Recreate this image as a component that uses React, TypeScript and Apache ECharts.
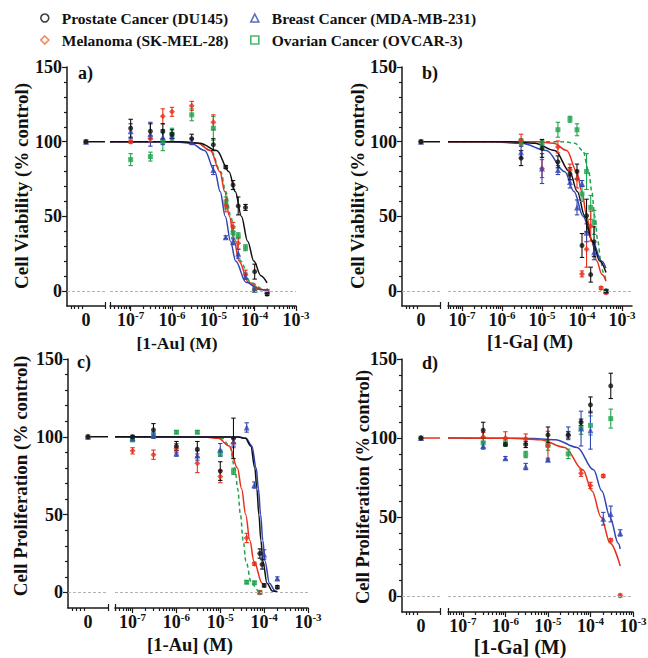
import { useEffect, useRef } from "react";
import * as echarts from "echarts";

const FONT = "Liberation Serif";

// ---------------- data (concentrations in M, values in % of control) ----------------
const CONTROL_PCT = 100; // untreated control, plotted at concentration 0

// Panel a) viability, 1-Au
const CONC_A = [1e-7, 3e-7, 6e-7, 1e-6, 3e-6, 1e-5, 2e-5, 3e-5, 4e-5, 6e-5, 1e-4, 2e-4];
const A_DU145 = [109, 107, 107, 105, 102, 98, 83, 71, 57, 56, 13, -2];
const A_DU145_ERR = [6, 5, 5, 3, 3, 4, 1, 3, 6, 2, 5, 1];
const A_MEL = [100, 102, 117, 120, 124, 113, 57, 43, 32, 11, 1, 0];
const A_MEL_ERR = [1, 2, 5, 3, 3, 5, 4, 3, 4, 3, 1, 1];
const A_MDA = [107, 105, 103, 104, 100, 81, 36, 33, 25, 10, 1, 0];
const A_MDA_ERR = [5, 8, 5, 2, 2, 3, 1, 2, 3, 2, 1, 1];
const A_OVCAR = [88, 90, 100, 105, 118, 109, 59, 39, 37, 29, 0.5, null];
const A_OVCAR_ERR = [4, 3, 6, 4, 4, 8, 4, 3, 2, 2, 1, null];

// Panel b) viability, 1-Ga
const CONC_B = [3e-6, 1e-5, 2.5e-5, 5e-5, 7.5e-5, 1e-4, 1.3e-4, 1.65e-4, 2e-4, 3e-4, 4e-4];
const B_DU145 = [89, 95.5, 86.5, 78.5, 80, 30.5, 50.5, 11, 33, null, 0];
const B_DU145_ERR = [5, 6, 4, 4, 5, 8, 11, 5, 10, null, 1];
const B_MEL = [101, 82, 96.5, 81, 75, 11.5, 28, 43.5, null, 2, -1];
const B_MEL_ERR = [4, 6, 4, 4, 6, 2, 12, 10, null, 1, 1];
const B_MDA = [93, 82, 81, 73, 56, 72, 39, null, 26, null, 0];
const B_MDA_ERR = [4, 10, 3, 4, 5, 2, 6, null, 5, null, 1];
const B_OVCAR = [100, 99, 108, 115, 108, 65, 80, 56, 46, null, 0];
const B_OVCAR_ERR = [2, 2, 5, 2, 4, 5, 12, 8, 8, null, 1];

// Panel c) proliferation, 1-Au
const CONC_C = [1e-7, 3e-7, 1e-6, 3e-6, 1e-5, 2e-5, 4e-5, 6e-5, 8e-5, 9e-5, 1e-4, 2e-4];
const C_DU145 = [100, 104.5, 94, 92, 78, 99, null, null, 25, 18, 4.5, 3.4];
const C_DU145_ERR = [1, 4, 3, 5, 6, 13, null, null, 3, 3, 1, 1];
const C_MEL = [91, 88.5, 92.7, 83, 74.5, 96, 35, 18.4, 0, null, null, null];
const C_MEL_ERR = [2, 3, 3, 6, 4, 3, 3, 1, 1, null, null, null];
const C_MDA = [99, 101, 89.5, 88, 91.7, 97, 106, 69, null, null, 24.4, 9];
const C_MDA_ERR = [1, 2, 2, 3, 4, 3, 3, 2, null, null, 3, 1];
const C_OVCAR = [98, 101, 103, 103, 89.5, 77.8, 6.6, 6.2, 0, null, null, null];
const C_OVCAR_ERR = [1, 1, 1, 1, 2, 2, 1, 1, 1, null, null, null];

// Panel d) proliferation, 1-Ga
const CONC_D = [3e-7, 1e-6, 3e-6, 1e-5, 3e-5, 6e-5, 1e-4, 2e-4, 3e-4, 5e-4];
const D_DU145 = [105, 96, 96, 102, 102, 110, 121, null, 133, null];
const D_DU145_ERR = [5, 1, 2, 5, 2, 2, 5, null, 8, null];
const D_MEL = [100.6, 100, 99.6, 95.3, null, 77.8, 70, 76, 35.4, 0.4];
const D_MEL_ERR = [3, 4, 3, 9, null, 2, 2, 1, 1, 1];
const D_MDA = [95, 87.3, 82, 86.3, 103, 106, 105, 49, 52, 40];
const D_MDA_ERR = [2, 1, 2, 1, 4, 11, 12, 4, 5, 2];
const D_OVCAR = [97, 97, 89.6, 95.3, 90, 106.4, 108, null, 112.3, null];
const D_OVCAR_ERR = [3, 2, 2, 3, 3, 4, 6, null, 6, null];

// Fitted dose-response curves: [log10(M), %]
const FIT_A_DU145 = [[-7.5, 100], [-5.82, 99.9], [-5.32, 99.0], [-4.92, 94.1], [-4.62, 79.9], [-4.47, 66.6], [-4.32, 50], [-4.17, 33.4], [-4.02, 20.1], [-3.85, 10.3], [-3.7, 5.5]];
const FIT_A_MDA = [[-7.5, 100], [-5.96, 99.9], [-5.54, 99.0], [-5.21, 94.1], [-4.96, 79.9], [-4.835, 66.6], [-4.71, 50], [-4.585, 33.4], [-4.46, 20.1], [-4.21, 5.9], [-3.88, 1.0], [-3.7, 0.4]];
const FIT_A_MEL = [[-7.5, 100], [-5.76, 99.9], [-5.38, 99.0], [-5.07, 94.1], [-4.84, 79.9], [-4.725, 66.6], [-4.61, 50], [-4.495, 33.4], [-4.38, 20.1], [-4.15, 5.9], [-3.84, 1.0], [-3.7, 0.4]];
const FIT_A_OVCAR = [[-7.5, 100], [-5.78, 99.9], [-5.38, 99.0], [-5.06, 94.1], [-4.82, 79.9], [-4.7, 66.6], [-4.58, 50], [-4.46, 33.4], [-4.34, 20.1], [-4.1, 5.9], [-3.78, 1.0], [-3.7, 0.6]];

const FIT_B_DU145 = [[-7.35, 100], [-5.8, 99.9], [-5.18, 99.0], [-4.68, 94.1], [-4.305, 79.9], [-4.118, 66.6], [-3.93, 50], [-3.743, 33.4], [-3.555, 20.1], [-3.4, 12.4]];
const FIT_B_MEL = [[-7.35, 100], [-5.13, 99.9], [-4.71, 99.0], [-4.38, 94.1], [-4.13, 79.9], [-4.005, 66.6], [-3.88, 50], [-3.755, 33.4], [-3.63, 20.1], [-3.505, 11.2], [-3.4, 6.6]];
const FIT_B_MDA = [[-7.35, 100], [-6.28, 99.9], [-5.51, 99.0], [-4.89, 94.1], [-4.43, 79.9], [-4.2, 66.6], [-3.97, 50], [-3.74, 33.4], [-3.51, 20.1], [-3.4, 15.4]];
const FIT_B_OVCAR = [[-7.35, 100], [-4.43, 99.9], [-4.18, 99.0], [-3.98, 94.1], [-3.83, 79.9], [-3.755, 66.6], [-3.68, 50], [-3.605, 33.4], [-3.53, 20.1], [-3.47, 12.6], [-3.4, 7.0]];

const FIT_C_DU145 = [[-7.4, 100], [-4.582, 99.9], [-4.428, 99.0], [-4.305, 94.1], [-4.212, 79.9], [-4.166, 66.6], [-4.12, 50], [-4.074, 33.4], [-4.028, 20.1], [-3.935, 5.9], [-3.812, 1.0], [-3.7, 0.2]];
const FIT_C_MDA = [[-7.4, 100], [-4.58, 99.9], [-4.413, 99.0], [-4.28, 94.1], [-4.18, 79.9], [-4.13, 66.6], [-4.08, 50], [-4.03, 33.4], [-3.98, 20.1], [-3.88, 5.9], [-3.747, 1.0], [-3.7, 0.5]];
const FIT_C_MEL = [[-7.4, 100], [-5.358, 99.9], [-5.045, 99.0], [-4.795, 94.1], [-4.608, 79.9], [-4.514, 66.6], [-4.42, 50], [-4.326, 33.4], [-4.233, 20.1], [-4.045, 5.9], [-4.0, 4.3]];
const FIT_C_OVCAR = [[-7.4, 100], [-5.165, 99.9], [-4.957, 99.0], [-4.79, 94.1], [-4.665, 79.9], [-4.603, 66.6], [-4.54, 50], [-4.478, 33.4], [-4.415, 20.1], [-4.29, 5.9], [-4.123, 1.0], [-4.1, 0.8]];

const FIT_D_MDA = [[-7.35, 100], [-5.475, 99.9], [-4.83, 99.0], [-4.314, 94.1], [-3.927, 79.9], [-3.734, 66.6], [-3.54, 50], [-3.346, 33.4], [-3.3, 29.8]];
const FIT_D_MEL = [[-7.35, 100], [-5.893, 99.9], [-5.179, 99.0], [-4.607, 94.1], [-4.179, 79.9], [-3.964, 66.6], [-3.75, 50], [-3.536, 33.4], [-3.3, 19.0]];

// Axis tick labels
const Y_TICKS = [0, 50, 100, 150];
const Y_MINOR = [10, 20, 30, 40, 60, 70, 80, 90, 110, 120, 130, 140];
const X_DECADES = [-7, -6, -5, -4, -3];

// ---------------- styling / layout ----------------
type Key = "du145" | "mel" | "mda" | "ovcar";
const STYLE: Record<Key, { name: string; color: string; symbol: string; size: number; icon: string; legendColor: string }> = {
  du145: { name: "Prostate Cancer (DU145)", color: "#111111", symbol: "circle", size: 5, icon: "circle", legendColor: "#111111" },
  mel: { name: "Melanoma (SK-MEL-28)", color: "#e8301c", symbol: "diamond", size: 6, icon: "diamond", legendColor: "#f26a2e" },
  mda: { name: "Breast Cancer (MDA-MB-231)", color: "#3245b5", symbol: "triangle", size: 6, icon: "triangle", legendColor: "#3245b5" },
  ovcar: { name: "Ovarian Cancer (OVCAR-3)", color: "#1ea44c", symbol: "rect", size: 5, icon: "rect", legendColor: "#1ea44c" },
};
const DRAW_ORDER: Key[] = ["ovcar", "mel", "mda", "du145"];

const PANELS = [
  {
    letter: "a)", yTitle: "Cell Viability (% control)", xTitle: "[1-Au] (M)", conc: CONC_A,
    values: { du145: A_DU145, mel: A_MEL, mda: A_MDA, ovcar: A_OVCAR },
    errs: { du145: A_DU145_ERR, mel: A_MEL_ERR, mda: A_MDA_ERR, ovcar: A_OVCAR_ERR },
    fits: [
      { key: "ovcar" as Key, pts: FIT_A_OVCAR, dashed: true },
      { key: "mel" as Key, pts: FIT_A_MEL, dashed: false },
      { key: "mda" as Key, pts: FIT_A_MDA, dashed: false },
      { key: "du145" as Key, pts: FIT_A_DU145, dashed: false },
    ],
    plateau: "du145" as Key,
    L: { top: 67, h: 239, leftL: 67, wL: 38, leftR: 110, wR: 186, xMin: -7.5, xMax: -3, letter: [78, 73], yT: [21, 186, 19], xT: [177, 343, 17.5] },
  },
  {
    letter: "b)", yTitle: "Cell Viability (% control)", xTitle: "[1-Ga] (M)", conc: CONC_B,
    values: { du145: B_DU145, mel: B_MEL, mda: B_MDA, ovcar: B_OVCAR },
    errs: { du145: B_DU145_ERR, mel: B_MEL_ERR, mda: B_MDA_ERR, ovcar: B_OVCAR_ERR },
    fits: [
      { key: "ovcar" as Key, pts: FIT_B_OVCAR, dashed: true },
      { key: "mda" as Key, pts: FIT_B_MDA, dashed: false },
      { key: "mel" as Key, pts: FIT_B_MEL, dashed: false },
      { key: "du145" as Key, pts: FIT_B_DU145, dashed: false },
    ],
    plateau: "du145" as Key,
    L: { top: 67, h: 239, leftL: 402, wL: 38, leftR: 448, wR: 184, xMin: -7.35, xMax: -2.75, letter: [422, 73], yT: [357, 186, 19], xT: [530, 342, 18.5] },
  },
  {
    letter: "c)", yTitle: "Cell Proliferation (% control)", xTitle: "[1-Au] (M)", conc: CONC_C,
    values: { du145: C_DU145, mel: C_MEL, mda: C_MDA, ovcar: C_OVCAR },
    errs: { du145: C_DU145_ERR, mel: C_MEL_ERR, mda: C_MDA_ERR, ovcar: C_OVCAR_ERR },
    fits: [
      { key: "ovcar" as Key, pts: FIT_C_OVCAR, dashed: true },
      { key: "mel" as Key, pts: FIT_C_MEL, dashed: false },
      { key: "mda" as Key, pts: FIT_C_MDA, dashed: false },
      { key: "du145" as Key, pts: FIT_C_DU145, dashed: false },
    ],
    plateau: "du145" as Key,
    L: { top: 359, h: 249, leftL: 68, wL: 40, leftR: 115, wR: 193, xMin: -7.4, xMax: -3, letter: [77, 362], yT: [20, 476, 19], xT: [190, 645, 18.5] },
  },
  {
    letter: "d)", yTitle: "Cell Proliferation (% control)", xTitle: "[1-Ga] (M)", conc: CONC_D,
    values: { du145: D_DU145, mel: D_MEL, mda: D_MDA, ovcar: D_OVCAR },
    errs: { du145: D_DU145_ERR, mel: D_MEL_ERR, mda: D_MDA_ERR, ovcar: D_OVCAR_ERR },
    fits: [
      { key: "mda" as Key, pts: FIT_D_MDA, dashed: false },
      { key: "mel" as Key, pts: FIT_D_MEL, dashed: false },
    ],
    plateau: "mel" as Key,
    L: { top: 359, h: 253, leftL: 402, wL: 38, leftR: 448, wR: 185, xMin: -7.35, xMax: -3, letter: [422, 363], yT: [363, 487, 18.5], xT: [520, 647, 20] },
  },
];

const AXIS_COLOR = "#1a1a1a";
const LEFT_MIN = -1;
const LEFT_MAX = 1;
const Y_MIN = -10;
const Y_MAX = 150;

function minorLogTicks(min: number, max: number): number[] {
  const out: number[] = [];
  for (let n = Math.floor(min); n <= Math.ceil(max); n++) {
    for (let k = 2; k <= 9; k++) {
      const v = n + Math.log10(k);
      if (v > min && v < max) out.push(v);
    }
  }
  return out;
}

const errRender = (color: string) => (_params: any, api: any) => {
  const x = api.value(0);
  const y = api.value(1);
  const e = api.value(2);
  const p1 = api.coord([x, y + e]);
  const p2 = api.coord([x, y - e]);
  const hw = 2.2;
  const style = { stroke: color, lineWidth: 1.1 };
  return {
    type: "group",
    children: [
      { type: "line", shape: { x1: p1[0], y1: p1[1], x2: p2[0], y2: p2[1] }, style },
      { type: "line", shape: { x1: p1[0] - hw, y1: p1[1], x2: p1[0] + hw, y2: p1[1] }, style },
      { type: "line", shape: { x1: p2[0] - hw, y1: p2[1], x2: p2[0] + hw, y2: p2[1] }, style },
    ],
  };
};

function buildOption() {
  const grid: any[] = [];
  const xAxis: any[] = [];
  const yAxis: any[] = [];
  const series: any[] = [];
  const graphic: any[] = [];

  const zeroLine = {
    silent: true,
    symbol: ["none", "none"],
    label: { show: false },
    lineStyle: { color: "#b3b3b3", type: [3, 2], width: 1 },
    data: [{ yAxis: 0 }],
  };
  const lineStyleAxis = { color: AXIS_COLOR, width: 1.5 };
  const tickStyle = { color: AXIS_COLOR, width: 1.2 };
  const labelBase = { fontFamily: FONT, fontWeight: "bold", color: "#111", fontSize: 18 };
  const hiddenLine = { show: false, onZero: false };

  PANELS.forEach((p, pi) => {
    const L = p.L;
    const gL = pi * 2;
    const gR = pi * 2 + 1;
    grid.push({ left: L.leftL, top: L.top, width: L.wL, height: L.h, containLabel: false, outerBoundsMode: "none" });
    grid.push({ left: L.leftR, top: L.top, width: L.wR, height: L.h, containLabel: false, outerBoundsMode: "none" });

    // ---- left (zero) segment x axes ----
    xAxis.push({
      gridIndex: gL, type: "value", min: LEFT_MIN, max: LEFT_MAX, position: "bottom",
      axisLine: { show: true, onZero: false, lineStyle: lineStyleAxis },
      axisTick: { show: false },
      axisLabel: { show: true, customValues: [0], formatter: () => "0", margin: 4, ...labelBase, lineHeight: 20 },
      splitLine: { show: false },
    });
    xAxis.push({
      gridIndex: gL, type: "value", min: LEFT_MIN, max: LEFT_MAX, position: "bottom",
      axisLine: hiddenLine, axisLabel: { show: false }, splitLine: { show: false },
      axisTick: { show: true, length: 3, lineStyle: tickStyle, customValues: [-0.8, -0.6, -0.4, -0.2, LEFT_MAX] },
    });
    xAxis.push({
      gridIndex: gL, type: "value", min: LEFT_MIN, max: LEFT_MAX, position: "bottom",
      axisLine: hiddenLine, axisLabel: { show: false }, splitLine: { show: false },
      axisTick: { show: true, inside: true, length: 4, lineStyle: tickStyle, customValues: [LEFT_MAX] },
    });
    // ---- right (log) segment x axes ----
    const decades = X_DECADES.filter((d) => d >= L.xMin && d <= L.xMax);
    xAxis.push({
      gridIndex: gR, type: "value", min: L.xMin, max: L.xMax, position: "bottom",
      axisLine: { show: true, onZero: false, lineStyle: lineStyleAxis },
      axisTick: { show: true, length: 5, lineStyle: tickStyle, customValues: decades },
      axisLabel: {
        show: true, customValues: decades, margin: 4,
        formatter: (v: number) => `{n|10}{s|${Math.round(v)}}`,
        rich: {
          n: { ...labelBase, fontSize: 18, lineHeight: 20 },
          s: { ...labelBase, fontSize: 11, lineHeight: 12, padding: [0, 0, 10, 0] },
        },
      },
      splitLine: { show: false },
    });
    xAxis.push({
      gridIndex: gR, type: "value", min: L.xMin, max: L.xMax, position: "bottom",
      axisLine: hiddenLine, axisLabel: { show: false }, splitLine: { show: false },
      axisTick: { show: true, length: 3, lineStyle: tickStyle, customValues: [L.xMin, ...minorLogTicks(L.xMin, L.xMax)] },
    });
    xAxis.push({
      gridIndex: gR, type: "value", min: L.xMin, max: L.xMax, position: "bottom",
      axisLine: hiddenLine, axisLabel: { show: false }, splitLine: { show: false },
      axisTick: { show: true, inside: true, length: 4, lineStyle: tickStyle, customValues: [L.xMin] },
    });

    // ---- y axes ----
    yAxis.push({
      gridIndex: gL, type: "value", min: Y_MIN, max: Y_MAX, position: "left",
      axisLine: { show: true, onZero: false, lineStyle: lineStyleAxis },
      axisTick: { show: true, length: 5, lineStyle: tickStyle, customValues: Y_TICKS },
      axisLabel: { show: true, customValues: Y_TICKS, margin: 5, ...labelBase },
      splitLine: { show: false },
    });
    yAxis.push({
      gridIndex: gL, type: "value", min: Y_MIN, max: Y_MAX, position: "left",
      axisLine: hiddenLine, axisLabel: { show: false }, splitLine: { show: false },
      axisTick: { show: true, length: 3, lineStyle: tickStyle, customValues: Y_MINOR },
    });
    yAxis.push({ gridIndex: gR, type: "value", min: Y_MIN, max: Y_MAX, show: false, axisLine: hiddenLine });
    yAxis.push({ gridIndex: gR, type: "value", min: Y_MIN, max: Y_MAX, show: false, axisLine: hiddenLine });

    const xL = gL * 3;
    const xR = gR * 3;
    const yL = gL * 2;
    const yR = gR * 2;

    // curve extension across the zero segment
    series.push({
      type: "line", xAxisIndex: xL, yAxisIndex: yL, silent: true, showSymbol: false, z: 2,
      data: [[0, CONTROL_PCT], [LEFT_MAX, CONTROL_PCT]],
      lineStyle: { color: STYLE[p.plateau].color, width: 1.5 },
      markLine: zeroLine,
    });

    // fitted curves
    p.fits.forEach((f, fi) => {
      series.push({
        type: "line", xAxisIndex: xR, yAxisIndex: yR, silent: true, showSymbol: false, z: 2,
        smooth: 0.35, smoothMonotone: "x",
        data: f.pts,
        lineStyle: { color: STYLE[f.key].color, width: 1.5, type: f.dashed ? [4, 3] : "solid" },
        ...(fi === 0 ? { markLine: zeroLine } : {}),
      });
    });

    // points and error bars
    DRAW_ORDER.forEach((k) => {
      const st = STYLE[k];
      const vals = (p.values as any)[k] as (number | null)[];
      const errs = (p.errs as any)[k] as (number | null)[];
      const pts: number[][] = [];
      const eb: number[][] = [];
      p.conc.forEach((c, i) => {
        const v = vals[i];
        if (v === null || v === undefined) return;
        const lx = Math.log10(c);
        pts.push([lx, v]);
        eb.push([lx, v, errs[i] ?? 0]);
      });
      series.push({
        type: "custom", xAxisIndex: xR, yAxisIndex: yR, silent: true, z: 3,
        renderItem: errRender(st.color), data: eb, encode: { x: 0, y: 1 },
      });
      series.push({
        type: "scatter", name: st.name, xAxisIndex: xR, yAxisIndex: yR, z: 4,
        symbol: st.symbol, symbolSize: st.size, itemStyle: { color: st.color },
        data: pts,
      });
      series.push({
        type: "scatter", name: st.name, xAxisIndex: xL, yAxisIndex: yL, z: 4,
        symbol: st.symbol, symbolSize: st.size, itemStyle: { color: st.color },
        data: [[0, CONTROL_PCT]],
      });
    });

    // texts
    graphic.push({
      type: "text", x: L.letter[0], y: L.letter[1], silent: true,
      style: { text: p.letter, fontFamily: FONT, fontWeight: "bold", fontSize: 18, fill: "#111", textAlign: "left", textVerticalAlign: "middle", align: "left", verticalAlign: "middle" },
    });
    graphic.push({
      type: "text", x: L.yT[0], y: L.yT[1], rotation: Math.PI / 2, silent: true,
      style: { text: p.yTitle, fontFamily: FONT, fontWeight: "bold", fontSize: L.yT[2], fill: "#111", textAlign: "center", textVerticalAlign: "middle", align: "center", verticalAlign: "middle" },
    });
    graphic.push({
      type: "text", x: L.xT[0], y: L.xT[1], silent: true,
      style: { text: p.xTitle, fontFamily: FONT, fontWeight: "bold", fontSize: L.xT[2], fill: "#111", textAlign: "center", textVerticalAlign: "middle", align: "center", verticalAlign: "middle" },
    });
  });

  const legendItem = (k: Key) => ({
    name: STYLE[k].name,
    icon: STYLE[k].icon,
    itemStyle: { color: "#ffffff", borderColor: STYLE[k].legendColor, borderWidth: 1.6 },
  });
  const legendBase = {
    orient: "vertical", top: 4, itemGap: 4, itemWidth: 8, itemHeight: 8, selectedMode: false,
    textStyle: { fontFamily: FONT, fontWeight: "bold", fontSize: 15.5, color: "#111", lineHeight: 18, padding: [0, 0, 0, 8] },
  };

  return {
    animation: false,
    backgroundColor: "#ffffff",
    textStyle: { fontFamily: FONT },
    grid, xAxis, yAxis, series, graphic,
    legend: [
      { ...legendBase, left: 35, data: [legendItem("du145"), legendItem("mel")] },
      { ...legendBase, left: 245, data: [legendItem("mda"), legendItem("ovcar")] },
    ],
  };
}

export default function App() {
  const ref = useRef<HTMLDivElement>(null);
  useEffect(() => {
    if (!ref.current) return;
    const chart = echarts.init(ref.current, undefined, { renderer: "svg" });
    chart.setOption(buildOption() as any);
    return () => chart.dispose();
  }, []);
  return <div ref={ref} style={{ position: "absolute", left: 0, top: 0, width: 648, height: 658, background: "#fff" }} />;
}
